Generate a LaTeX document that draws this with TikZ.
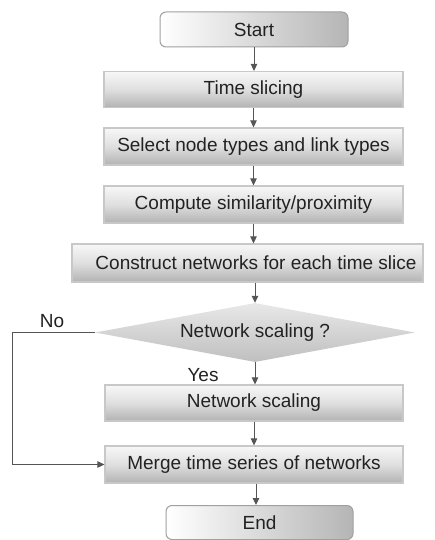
\documentclass[tikz,border=0pt]{standalone}
\usepackage{fontspec}
\setmainfont{Liberation Sans}
\usetikzlibrary{shapes.geometric,arrows.meta}
\definecolor{txt}{HTML}{222222}
\definecolor{ln}{HTML}{555555}
\definecolor{bord}{HTML}{C8C8C8}
\definecolor{rbord}{HTML}{A0A0A0}
\begin{document}
\begin{tikzpicture}[x=1pt,y=-1pt,
  every node/.style={font=\fontsize{19}{22}\selectfont, text=txt, inner sep=0pt},
  procbox/.style={rectangle, draw=bord, line width=1.2pt, top color=gray!6, bottom color=gray!60, middle color=gray!25, minimum height=36pt},
  termbox/.style={rectangle, rounded corners=6pt, draw=rbord, line width=1pt, left color=white, right color=gray!58, minimum width=188pt, minimum height=35pt},
  decbox/.style={diamond, aspect=5.4, top color=gray!18, bottom color=gray!50, minimum width=320pt, minimum height=59pt},
  flow/.style={draw=ln, line width=1pt, -{Triangle[length=7pt,width=6.5pt]}},
]
\useasboundingbox (0,0) rectangle (435,540);
\node[termbox] (start) at (254,29.5) {Start};
\node[procbox, minimum width=299pt] (b1) at (253.5,89.5) {Time slicing};
\node[procbox, minimum width=299pt, minimum height=37pt] (b2) at (253.5,146.5) {Select node types and link types};
\node[procbox, minimum width=299pt, minimum height=37pt] (b3) at (253.5,204.5) {Compute similarity/proximity};
\node[procbox, minimum width=351pt, minimum height=38pt] (b4) at (247.5,263) {\hspace*{17pt}Construct networks for each time slice};
\node[decbox] (dia) at (255,332.5) {Network scaling ?};
\node[procbox, minimum width=298pt] (b5) at (254,403) {Network scaling};
\node[procbox, minimum width=298pt, minimum height=37pt] (b6) at (254,464.5) {Merge time series of networks};
\node[termbox, minimum width=187pt, minimum height=34pt] (end) at (259.5,522.5) {End};
\node (no) at (52,321) {No};
\node (yes) at (203,375) {Yes};
\coordinate (lp) at (12,332.5);
\draw[flow] (start.south) -- (start.south |- b1.north);
\draw[flow] (b1.south) -- (b2.north);
\draw[flow] (b2.south) -- (b3.north);
\draw[flow] (b3.south) -- (b3.south |- b4.north);
\draw[flow] (b4.south -| dia.north) -- (dia.north);
\draw[flow] (dia.south) -- (dia.south |- b5.north);
\draw[flow] (b5.south) -- (b6.north);
\draw[flow] (b6.south -| 256,0) -- (256,0 |- end.north);
\draw[flow] (dia.west) -- (lp) |- (b6.west);
\end{tikzpicture}
\end{document}
